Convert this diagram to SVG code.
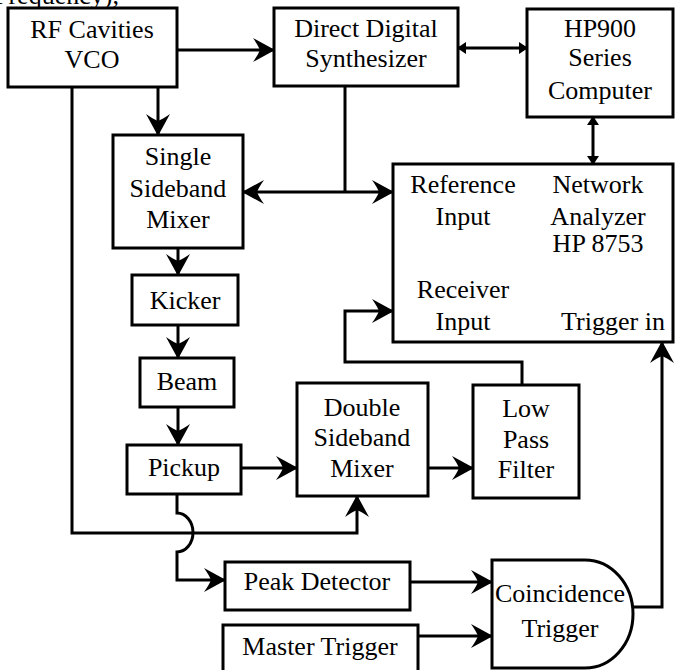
<svg xmlns="http://www.w3.org/2000/svg" width="675" height="670" viewBox="0 0 675 670" font-family="Liberation Serif, Times New Roman, Times, DejaVu Serif, serif">
<style>
.box{fill:#fff;stroke:#000;stroke-width:3}
text{font-family:"Liberation Serif","Times New Roman",Times,"DejaVu Serif",serif;font-size:26px;fill:#000;text-anchor:middle}
.c{fill:none;stroke:#000;stroke-width:3}
</style>
<defs>
<marker id="a" markerUnits="userSpaceOnUse" viewBox="-24 -14 26 28" refX="0" refY="0" markerWidth="26" markerHeight="28" orient="auto-start-reverse">
<path d="M1,0 L-21,-12 Q-16,-5 -14,0 Q-16,5 -21,12 Z" fill="#000"/>
</marker>
<marker id="s" markerUnits="userSpaceOnUse" viewBox="-10 -8 12 16" refX="0" refY="0" markerWidth="12" markerHeight="16" orient="auto-start-reverse">
<path d="M1,0 L-8,-6 L-8,6 Z" fill="#000"/>
</marker>
</defs>
<rect width="675" height="670" fill="#fff"/>
<text x="-6" y="4" style="text-anchor:start">Frequency),</text>
<g id="connectors">
<path class="c" d="M177,50 H274" marker-end="url(#a)"/>
<path class="c" d="M458,48 H527" marker-start="url(#s)" marker-end="url(#s)"/>
<path class="c" d="M593,117 V164" marker-start="url(#s)" marker-end="url(#s)"/>
<path class="c" d="M158,87 V135" marker-end="url(#a)"/>
<path class="c" d="M72,87 V533 H357 V496" marker-end="url(#a)"/>
<path class="c" d="M345,86 V192"/>
<path class="c" d="M243,192 H393" marker-start="url(#a)" marker-end="url(#a)"/>
<path class="c" d="M178,248 V275" marker-end="url(#a)"/>
<path class="c" d="M178,325 V358" marker-end="url(#a)"/>
<path class="c" d="M178,407 V445" marker-end="url(#a)"/>
<path class="c" d="M241,468 H297" marker-end="url(#a)"/>
<path class="c" d="M428,468 H473" marker-end="url(#a)"/>
<path class="c" d="M522,385 V362 H345 V311 H393" marker-end="url(#a)"/>
<path class="c" d="M177,494 V513 A16,19.5 0 0 1 177,552 V580 H225" marker-end="url(#a)"/>
<path class="c" d="M410,582 H492" marker-end="url(#a)"/>
<path class="c" d="M418,636 H492" marker-end="url(#a)"/>
<path class="c" d="M633,607 H662 V342" marker-end="url(#a)"/>
</g>
<g id="rf"><rect class="box" x="8" y="8" width="169" height="79"/><text x="92" y="38">RF Cavities</text><text x="92" y="68">VCO</text></g>
<g id="dds"><rect class="box" x="274" y="8" width="184" height="78"/><text x="366" y="37">Direct Digital</text><text x="366" y="67">Synthesizer</text></g>
<g id="hp900"><rect class="box" x="527" y="9" width="146" height="108"/><text x="600" y="37">HP900</text><text x="600" y="66">Series</text><text x="600" y="99">Computer</text></g>
<g id="na"><rect class="box" x="393" y="164" width="280" height="178"/>
<text x="463" y="193">Reference</text><text x="463" y="225">Input</text>
<text x="598" y="193">Network</text><text x="598" y="225">Analyzer</text><text x="598" y="252">HP 8753</text>
<text x="463" y="298">Receiver</text><text x="463" y="330">Input</text>
<text x="613" y="330">Trigger in</text></g>
<g id="ssb"><rect class="box" x="113" y="135" width="130" height="113"/><text x="178" y="165">Single</text><text x="178" y="197">Sideband</text><text x="178" y="228">Mixer</text></g>
<g id="kicker"><rect class="box" x="132" y="275" width="106" height="50"/><text x="185" y="309">Kicker</text></g>
<g id="beam"><rect class="box" x="140" y="358" width="94" height="49"/><text x="187" y="390">Beam</text></g>
<g id="pickup"><rect class="box" x="127" y="445" width="114" height="49"/><text x="184" y="476">Pickup</text></g>
<g id="dsb"><rect class="box" x="297" y="383" width="131" height="113"/><text x="362" y="416">Double</text><text x="362" y="446">Sideband</text><text x="362" y="477">Mixer</text></g>
<g id="lpf"><rect class="box" x="473" y="385" width="106" height="113"/><text x="526" y="417">Low</text><text x="526" y="448">Pass</text><text x="526" y="478">Filter</text></g>
<g id="peak"><rect class="box" x="225" y="562" width="185" height="48"/><text x="317" y="590">Peak Detector</text></g>
<g id="master"><rect class="box" x="223" y="625" width="195" height="60"/><text x="320" y="655">Master Trigger</text></g>
<g id="coinc"><path class="box" d="M492,560 H585 A48,54 0 0 1 585,668 H492 Z"/><text x="560" y="602">Coincidence</text><text x="560" y="637">Trigger</text></g>
</svg>
